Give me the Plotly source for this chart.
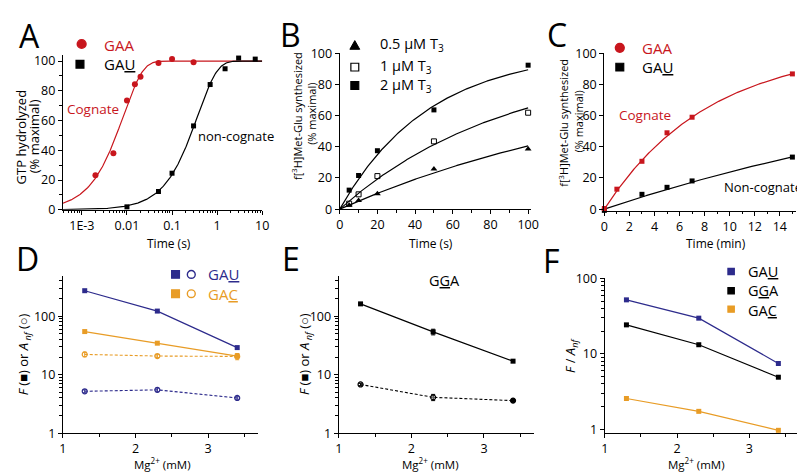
import numpy as np
import plotly.graph_objects as go

W, H = 805, 473
FONT = "Open Sans"
RED = "#c8161d"
BLUE = "#2d2b8c"
ORANGE = "#e89c26"

# ---------------- data ----------------
# Panel A: GTP hydrolysis (% maximal) vs time (s)
a_t_gaa = [0.002, 0.005, 0.01, 0.015, 0.02, 0.05, 0.1, 0.3]
a_y_gaa = [23.3, 38, 73.4, 84.4, 89.4, 98.7, 101.3, 99.1]
a_t_gau = [0.01, 0.05, 0.1, 0.3, 0.7, 1.5, 3, 7]
a_y_gau = [2, 12.3, 24.6, 56.4, 84.2, 94.8, 102, 101.3]
a_fit_k = {"gaa": 120.0, "gau": 2.7}          # single-exponential fits (s^-1)

# Panel B: f[3H]Met-Glu synthesized vs time (s)
b_t = [5, 10, 20, 50, 100]
b_y_05 = [2.5, 5.5, 9.9, 25.8, 38.6]
b_y_1 = [3.5, 9.5, 21.2, 43.5, 61.9]
b_y_2 = [12.2, 21.6, 37.5, 63.7, 92.4]
b_fit = {"05": (90.3, 0.00597), "1": (96.3, 0.01124), "2": (101.8, 0.0211)}

# Panel C: f[3H]Met-Glu synthesized vs time (min)
c_t_gaa = [0, 1, 3, 5, 7, 15]
c_y_gaa = [0.4, 12.8, 30.7, 49, 59, 86.8]
c_t_gau = [0, 3, 5, 7, 15]
c_y_gau = [-0.8, 9.5, 14, 18.1, 33.4]
c_fit = {"gaa": (104.0, 0.12), "gau": (104.0, 0.026)}

# Panel D/E/F: vs Mg2+ (mM)
mg = [1.3, 2.3, 3.4]
d_gau_F = [272, 122, 29]
d_gau_A = [5.2, 5.5, 4.0]
d_gau_A_err = [0.3, 0.4, 0.2]
d_gac_F = [54.5, 34.5, 20.8]
d_gac_A = [22.2, 20.8, 20.5]
d_gac_A_err = [2.0, 1.2, 2.5]

e_gga_F = [162, 53.8, 17]
e_gga_F_err = [0, 6, 0]
e_gga_A = [6.8, 4.1, 3.6]
e_gga_A_err = [0.3, 0.5, 0.2]

f_gau = [51.9, 29.7, 7.45]
f_gga = [24.2, 13.2, 4.9]
f_gac = [2.56, 1.73, 0.97]

# ---------------- helpers ----------------
def px(x):
    return x / W

def py(y):
    return 1 - y / H

TICKSIZE = 12.5

def ax_base(**kw):
    d = dict(showline=True, linecolor="black", linewidth=1.2, ticks="outside",
             ticklen=4, tickwidth=1.2, tickcolor="black", showgrid=False,
             zeroline=False, tickfont=dict(size=TICKSIZE, color="black", family=FONT))
    d.update(kw)
    return d

fig = go.Figure()

def add(tr, n):
    s = "" if n == 1 else str(n)
    tr.update(xaxis="x" + s, yaxis="y" + s, showlegend=False, cliponaxis=False)
    fig.add_trace(tr)

# Panel A
ta = np.logspace(np.log10(0.00038), 1, 300)
for key, col in (("gaa", RED), ("gau", "black")):
    add(go.Scatter(x=ta, y=100 * (1 - np.exp(-a_fit_k[key] * ta)), mode="lines",
                   line=dict(color=col, width=1.2)), 1)
add(go.Scatter(x=a_t_gaa, y=a_y_gaa, mode="markers",
               marker=dict(symbol="circle", size=6, color=RED)), 1)
add(go.Scatter(x=a_t_gau, y=a_y_gau, mode="markers",
               marker=dict(symbol="square", size=5, color="black")), 1)

# Panel B
tb = np.linspace(0, 100, 200)
for key in ("05", "1", "2"):
    A, k = b_fit[key]
    add(go.Scatter(x=tb, y=A * (1 - np.exp(-k * tb)), mode="lines",
                   line=dict(color="black", width=1.2)), 2)
add(go.Scatter(x=b_t, y=b_y_05, mode="markers",
               marker=dict(symbol="triangle-up", size=6, color="black")), 2)
add(go.Scatter(x=b_t, y=b_y_1, mode="markers",
               marker=dict(symbol="square-open", size=5, color="black", line=dict(width=1))), 2)
add(go.Scatter(x=b_t, y=b_y_2, mode="markers",
               marker=dict(symbol="square", size=5, color="black")), 2)

# Panel C
tc = np.linspace(0, 15, 200)
for key, col in (("gau", "black"), ("gaa", RED)):
    A, k = c_fit[key]
    add(go.Scatter(x=tc, y=A * (1 - np.exp(-k * tc)), mode="lines",
                   line=dict(color=col, width=1.2)), 3)
add(go.Scatter(x=c_t_gau, y=c_y_gau, mode="markers",
               marker=dict(symbol="square", size=5, color="black")), 3)
add(go.Scatter(x=c_t_gaa, y=c_y_gaa, mode="markers",
               marker=dict(symbol="square", size=5, color=RED)), 3)

# Panel D
DASH = "3px,2px"
add(go.Scatter(x=mg, y=d_gau_F, mode="lines+markers", line=dict(color=BLUE, width=1.2),
               marker=dict(symbol="square", size=5, color=BLUE)), 4)
add(go.Scatter(x=mg, y=d_gac_F, mode="lines+markers", line=dict(color=ORANGE, width=1.2),
               marker=dict(symbol="square", size=5, color=ORANGE)), 4)
add(go.Scatter(x=mg, y=d_gac_A, mode="lines+markers", line=dict(color=ORANGE, width=1.1, dash=DASH),
               error_y=dict(type="data", array=d_gac_A_err, color=ORANGE, thickness=1, width=2),
               marker=dict(symbol="circle-open", size=5, color=ORANGE, line=dict(width=1.2))), 4)
add(go.Scatter(x=mg, y=d_gau_A, mode="lines+markers", line=dict(color=BLUE, width=1.1, dash=DASH),
               error_y=dict(type="data", array=d_gau_A_err, color=BLUE, thickness=1, width=2),
               marker=dict(symbol="circle-open", size=5, color=BLUE, line=dict(width=1.2))), 4)

# Panel E
add(go.Scatter(x=mg, y=e_gga_F, mode="lines+markers", line=dict(color="black", width=1.2),
               error_y=dict(type="data", array=e_gga_F_err, color="black", thickness=1, width=2),
               marker=dict(symbol="square", size=5, color="black")), 5)
add(go.Scatter(x=mg, y=e_gga_A, mode="lines+markers", line=dict(color="black", width=1.1, dash=DASH),
               error_y=dict(type="data", array=e_gga_A_err, color="black", thickness=1, width=2),
               marker=dict(symbol=["circle-open", "circle-open", "circle"], size=5, color="black",
                           line=dict(width=1.2, color="black"))), 5)

# Panel F
for ys, col in ((f_gau, BLUE), (f_gga, "black"), (f_gac, ORANGE)):
    add(go.Scatter(x=mg, y=ys, mode="lines+markers", line=dict(color=col, width=1.2),
                   marker=dict(symbol="square", size=5, color=col)), 6)

# ---------------- axes ----------------
MINOR = dict(ticks="outside", ticklen=2.5, tickwidth=1, tickcolor="black")
lin_minor = lambda dt: dict(MINOR, dtick=dt)
a_minor_x = [k * 10.0 ** e for e in range(-4, 1) for k in range(2, 10)]
a_minor_x = [v for v in a_minor_x if 0.00038 <= v <= 10]
log_minor_y = [k * 10.0 ** e for e in range(0, 3) for k in range(2, 10)]
mg_minor = dict(MINOR, tickvals=[1.5, 2.5, 3.5])

layout = dict(
    width=W, height=H, margin=dict(l=0, r=0, t=0, b=0),
    paper_bgcolor="white", plot_bgcolor="white",
    font=dict(family=FONT, color="black"),
    xaxis=ax_base(type="log", range=[np.log10(0.00038), 1.0], domain=[px(51.7), px(254)], anchor="y",
                  tickvals=[1e-3, 1e-2, 0.1, 1, 10], ticktext=["1E-3", "0.01", "0.1", "1", "10"],
                  minor=dict(MINOR, tickvals=a_minor_x)),
    yaxis=ax_base(range=[0, 104], domain=[py(200), py(39.5)], anchor="x", tickvals=list(range(0, 101, 20)),
                  minor=dict(MINOR, tickvals=[10, 30, 50, 70, 90])),
    xaxis2=ax_base(range=[0, 101.6], domain=[px(332.7), px(527)], anchor="y2",
                   tickvals=list(range(0, 101, 20)), minor=lin_minor(10)),
    yaxis2=ax_base(range=[0, 100], domain=[py(199.3), py(37.7)], anchor="x2", tickvals=list(range(0, 101, 20))),
    xaxis3=ax_base(range=[0, 15.3], domain=[px(601.3), px(796)], anchor="y3",
                   tickvals=list(range(0, 15, 2)), minor=lin_minor(1)),
    yaxis3=ax_base(range=[-1, 100], domain=[py(200.9), py(37.7)], anchor="x3", tickvals=list(range(0, 101, 20))),
    xaxis4=ax_base(range=[1, 3.69], domain=[px(51.7), px(250)], anchor="y4", tickvals=[1, 2, 3], minor=mg_minor),
    yaxis4=ax_base(type="log", range=[0, 2.69], domain=[py(431.7), py(268.4)], anchor="x4",
                   tickvals=[1, 10, 100], ticktext=["1", "10", "100"],
                   minor=dict(MINOR, tickvals=log_minor_y)),
    xaxis5=ax_base(range=[1, 3.69], domain=[px(331.7), px(530)], anchor="y5", tickvals=[1, 2, 3], minor=mg_minor),
    yaxis5=ax_base(type="log", range=[0, 2.69], domain=[py(431.7), py(268.4)], anchor="x5",
                   tickvals=[1, 10, 100], ticktext=["1", "10", "100"],
                   minor=dict(MINOR, tickvals=log_minor_y)),
    xaxis6=ax_base(range=[1, 3.7], domain=[px(601.7), px(800)], anchor="y6", tickvals=[1, 2, 3], minor=mg_minor),
    yaxis6=ax_base(type="log", range=[-0.05, 2.0], domain=[py(431.6), py(271.1)], anchor="x6",
                   tickvals=[1, 10, 100], ticktext=["1", "10", "100"],
                   minor=dict(MINOR, tickvals=[v for v in log_minor_y if v < 100])),
)
fig.update_layout(**layout)

# ---------------- text ----------------
anns = []

def ann(text, x, y, size=12, color="black", xanchor="center", angle=0, align="center"):
    anns.append(dict(text=text, x=px(x), y=py(y), xref="paper", yref="paper", showarrow=False,
                     xanchor=xanchor, yanchor="middle", textangle=angle, align=align,
                     font=dict(size=size, color=color, family=FONT)))

# panel letters
for L, x, y in (("A", 18, 19), ("B", 283, 18), ("C", 553, 18), ("D", 16, 251), ("E", 283, 251), ("F", 548, 253)):
    ann(L, x, y, size=32)

# axis titles (rotated, one line each)
ann("GTP hydrolyzed", 9, 124, size=13, angle=-90)
ann("(% maximal)", 22, 124, size=13, angle=-90)
ann("f[<sup>3</sup>H]Met-Glu synthesized", 290, 103, size=11, angle=-90)
ann("(% maximal)", 304, 100, size=11, angle=-90)
ann("f[<sup>3</sup>H]Met-Glu synthesized", 560, 110, size=11, angle=-90)
ann("(% maximal)", 575, 108, size=11, angle=-90)
ann("Time (s)", 159, 234.5, size=12)
ann("Time (s)", 425, 234.5, size=12)
ann("Time (min)", 715, 234.5, size=12)
yt = "<i>F</i> (■) or <i>A</i><sub> <i>nf</i></sub> (○)"
ann(yt, 13, 350, size=13, angle=-90)
ann(yt, 298, 350, size=13, angle=-90)
ann("<i>F</i> / <i>A</i><sub><i>nf</i></sub>", 568, 352, size=13, angle=-90)
for xc in (153, 425, 695):
    ann("Mg<sup>2+</sup> (mM)", xc, 463, size=11.5)

# legends / labels
ann("GAA", 91, 29, size=15, color=RED, xanchor="left")
ann("GA<u>U</u>", 91, 49, size=15, xanchor="left")
ann("Cognate", 82, 95, size=13.5, color=RED)
ann("non-cognate", 227, 123, size=13)
ann("0.5 µM T<sub>3</sub>", 372, 29, size=14.5, xanchor="left")
ann("1 µM T<sub>3</sub>", 372, 51, size=14.5, xanchor="left")
ann("2 µM T<sub>3</sub>", 372, 71, size=14.5, xanchor="left")
ann("GAA", 637, 32, size=15, color=RED, xanchor="left")
ann("GA<u>U</u>", 637, 52, size=15, xanchor="left")
ann("Cognate", 643, 102, size=13.5, color=RED)
ann("Non-cognate", 721, 176, size=13, xanchor="left")
ann("GA<u>U</u>", 197, 267, size=15, color=BLUE, xanchor="left")
ann("GA<u>C</u>", 197, 287, size=15, color=ORANGE, xanchor="left")
ann("G<u>G</u>A", 439, 273, size=14.5)
ann("GA<u>U</u>", 745, 264, size=14.5, xanchor="left")
ann("G<u>G</u>A", 745, 284, size=14.5, xanchor="left")
ann("GA<u>C</u>", 745, 304, size=14.5, xanchor="left")
fig.update_layout(annotations=anns)

# legend marker shapes
shapes = []

def sq(cx, cy, s, color, filled=True):
    shapes.append(dict(type="rect", xref="paper", yref="paper",
                       x0=px(cx - s / 2), x1=px(cx + s / 2), y0=py(cy + s / 2), y1=py(cy - s / 2),
                       line=dict(color=color, width=1.2), fillcolor=color if filled else "white"))

def circ(cx, cy, d, color, filled=True):
    shapes.append(dict(type="circle", xref="paper", yref="paper",
                       x0=px(cx - d / 2), x1=px(cx + d / 2), y0=py(cy + d / 2), y1=py(cy - d / 2),
                       line=dict(color=color, width=1.4), fillcolor=color if filled else "white"))

def tri(cx, cy, s, color):
    h = s * 0.9
    p = "M {} {} L {} {} L {} {} Z".format(px(cx - s / 2), py(cy + h / 2), px(cx + s / 2), py(cy + h / 2),
                                          px(cx), py(cy - h / 2))
    shapes.append(dict(type="path", xref="paper", yref="paper", path=p,
                       line=dict(color=color, width=1), fillcolor=color))

circ(70.7, 28, 9, RED)
sq(69, 49, 8, "black")
tri(348, 29, 10, "black")
sq(348, 52, 8, "black", filled=False)
sq(348, 71, 8, "black")
circ(617, 32, 9, RED)
sq(617, 52, 8, "black")
sq(166, 267, 8, BLUE)
circ(182, 267, 8, BLUE, filled=False)
sq(166, 287, 8, ORANGE)
circ(182, 287, 8, ORANGE, filled=False)
sq(730, 264, 6.5, BLUE)
sq(730, 284, 6.5, "black")
sq(730, 303, 6.5, ORANGE)
fig.update_layout(shapes=shapes)

fig.write_html("out.html")
